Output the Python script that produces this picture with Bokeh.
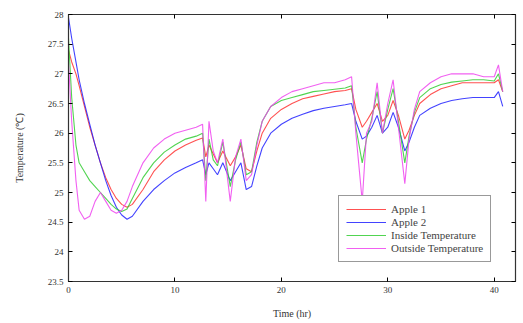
from bokeh.plotting import figure
from bokeh.models import Range1d, LinearAxis, FixedTicker, Legend, LegendItem
from bokeh.embed import file_html
from bokeh.resources import INLINE

time_hr = [0, 0.3, 0.7, 1.0, 1.5, 2, 2.5, 3, 3.5, 4, 4.5, 5, 5.5, 6, 7, 8, 9, 10, 11, 12,
           12.6, 12.9, 13.2, 13.6, 14, 14.5, 15.2, 15.7, 16.2, 16.7, 17.2, 17.7, 18.2, 19, 20,
           21, 22, 23, 24, 25, 26, 26.6, 27.0, 27.6, 28.0, 28.5, 29, 29.5, 30, 30.5, 31.0,
           31.6, 32.0, 32.5, 33, 34, 35, 36, 37, 38, 39, 40, 40.4, 40.8]

apple1 = [27.4, 27.2, 27.0, 26.8, 26.45, 26.1, 25.8, 25.5, 25.25, 25.05, 24.9, 24.8, 24.75, 24.8,
          25.05, 25.35, 25.55, 25.7, 25.8, 25.88, 25.92, 25.6, 25.8, 25.65, 25.5, 25.7, 25.45,
          25.6, 25.8, 25.4, 25.35, 25.7, 26.0, 26.25, 26.4, 26.5, 26.58, 26.62, 26.66, 26.7,
          26.72, 26.75, 26.4, 26.1, 26.2, 26.35, 26.5, 26.2, 26.3, 26.55, 26.3, 25.9, 26.05,
          26.3, 26.5, 26.65, 26.75, 26.8, 26.85, 26.85, 26.85, 26.85, 26.9, 26.7]

apple2 = [27.95, 27.6, 27.2, 26.9, 26.5, 26.15, 25.8, 25.5, 25.2, 24.95, 24.75, 24.62, 24.55, 24.6,
          24.85, 25.05, 25.2, 25.33, 25.42, 25.5, 25.55, 25.3, 25.5, 25.4, 25.3, 25.5, 25.2,
          25.35, 25.5, 25.05, 25.1, 25.45, 25.75, 26.0, 26.15, 26.25, 26.32, 26.38, 26.42, 26.45,
          26.48, 26.5, 26.2, 25.9, 25.95, 26.1, 26.3, 26.0, 26.1, 26.35, 26.1, 25.7, 25.85,
          26.1, 26.3, 26.42, 26.5, 26.55, 26.58, 26.6, 26.6, 26.6, 26.7, 26.45]

inside = [27.6, 26.6, 25.8, 25.5, 25.35, 25.2, 25.1, 25.0, 24.9, 24.8, 24.72, 24.68, 24.72, 24.9,
          25.25, 25.5, 25.68, 25.8, 25.9, 25.95, 26.0, 25.2, 25.9, 25.55, 25.45, 25.85, 25.1,
          25.55, 25.85, 25.3, 25.35, 25.85, 26.2, 26.45, 26.55, 26.6, 26.65, 26.7, 26.72, 26.74,
          26.76, 26.8, 26.1, 25.5, 25.9, 26.25, 26.7, 26.0, 26.4, 26.75, 26.2, 25.5, 25.95,
          26.35, 26.6, 26.75, 26.82, 26.86, 26.88, 26.9, 26.9, 26.88, 27.0, 26.7]

outside = [27.2, 26.2, 25.2, 24.7, 24.55, 24.6, 24.85, 25.0, 24.85, 24.7, 24.65, 24.7, 24.85, 25.1,
           25.5, 25.75, 25.9, 26.0, 26.05, 26.1, 26.15, 24.85, 26.2, 25.7, 25.5, 25.9, 24.85,
           25.6, 25.9, 25.2, 25.3, 25.8, 26.2, 26.45, 26.6, 26.7, 26.75, 26.8, 26.85, 26.85,
           26.9, 26.95, 26.0, 24.85, 26.0, 26.2, 26.85, 26.0, 26.5, 26.9, 26.1, 25.15, 25.9,
           26.4, 26.7, 26.85, 26.95, 27.0, 27.0, 27.0, 26.95, 26.95, 27.15, 26.7]

series_names = ["Apple 1", "Apple 2", "Inside Temperature", "Outside Temperature"]
series_colors = ["#ff3333", "#2222ff", "#33cc33", "#ee44ee"]
x_ticks = [0, 10, 20, 30, 40]
y_ticks = [23.5, 24, 24.5, 25, 25.5, 26, 26.5, 27, 27.5, 28]

FONT = "Liberation Serif"

p = figure(width=523, height=323, output_backend="svg", toolbar_location=None,
           x_range=Range1d(0, 42), y_range=Range1d(23.5, 28),
           min_border_left=68, min_border_right=8, min_border_top=14, min_border_bottom=42)
p.grid.visible = False
p.outline_line_color = "#333333"
p.outline_line_width = 1.2

for ax, ticks in ((p.xaxis[0], x_ticks), (p.yaxis[0], y_ticks)):
    ax.ticker = FixedTicker(ticks=ticks)
    ax.major_tick_in = 4
    ax.major_tick_out = 0
    ax.minor_tick_line_color = None
    ax.axis_line_color = "#333333"
    ax.major_label_text_font = FONT
    ax.major_label_text_font_size = "9px"
    ax.major_label_text_color = "#333333"
    ax.axis_label_text_font = FONT
    ax.axis_label_text_font_size = "10px"
    ax.axis_label_text_font_style = "normal"
    ax.axis_label_text_color = "#333333"

p.xaxis.axis_label = "Time (hr)"
p.yaxis.axis_label = "Temperature (\u2103)"
p.xaxis.axis_label_standoff = 12
p.yaxis.axis_label_standoff = 20

top_ax = LinearAxis(ticker=FixedTicker(ticks=x_ticks), major_label_text_color=None,
                    major_tick_in=4, major_tick_out=0, minor_tick_line_color=None,
                    axis_line_color="#333333")
right_ax = LinearAxis(ticker=FixedTicker(ticks=y_ticks), major_label_text_color=None,
                      major_tick_in=4, major_tick_out=0, minor_tick_line_color=None,
                      axis_line_color="#333333")
p.add_layout(top_ax, "above")
p.add_layout(right_ax, "right")

items = []
for name, ys, col in zip(series_names, [apple1, apple2, inside, outside], series_colors):
    r = p.line(time_hr, ys, line_color=col, line_width=1.1, line_alpha=0.85)
    items.append(LegendItem(label=name, renderers=[r]))

legend = Legend(items=items, location=(270, 19), glyph_width=40, glyph_height=10,
                label_height=10, label_text_font=FONT, label_text_font_size="11px",
                label_standoff=5, spacing=1, padding=7, margin=0,
                border_line_color="#333333", border_line_width=1.2,
                background_fill_alpha=1.0)
p.add_layout(legend, "center")

open("out.html", "w").write(file_html(p, INLINE))
